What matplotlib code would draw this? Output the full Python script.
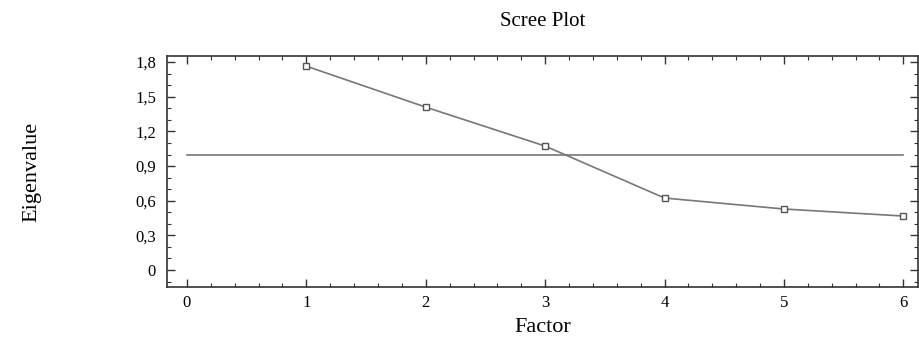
import matplotlib.pyplot as plt
from matplotlib.ticker import MultipleLocator, FuncFormatter

# data
factors = [1, 2, 3, 4, 5, 6]
eigenvalues = [1.765, 1.41, 1.073, 0.623, 0.528, 0.467]
ref_x = [0, 6]
ref_y = [1.0, 1.0]

plt.rcParams['font.family'] = ['Liberation Serif', 'DejaVu Serif']

fig = plt.figure(figsize=(9.2, 3.38), dpi=100)
ax = fig.add_axes([0.1815, 0.151, 0.816, 0.683])

ax.plot(ref_x, ref_y, color='#777777', lw=1.2)
ax.plot(factors, eigenvalues, color='#777777', lw=1.2, marker='s', ms=4,
        markerfacecolor='white', markeredgecolor='#555555', markeredgewidth=1)

ax.set_xlim(-0.167, 6.12)
ax.set_ylim(-0.147, 1.852)

ax.xaxis.set_major_locator(MultipleLocator(1))
ax.xaxis.set_minor_locator(MultipleLocator(0.2))
ax.yaxis.set_major_locator(MultipleLocator(0.3))
ax.yaxis.set_minor_locator(MultipleLocator(0.1))
ax.yaxis.set_major_formatter(FuncFormatter(lambda v, p: ('%g' % round(v, 1)).replace('.', ',')))

ax.tick_params(which='both', direction='in', top=True, right=True, color='#333333')
ax.tick_params(which='major', length=6, width=1, labelsize=12)
ax.tick_params(which='minor', length=3, width=0.8)
ax.tick_params(axis='y', pad=8)
ax.tick_params(axis='x', pad=6)

for s in ax.spines.values():
    s.set_color('#333333')
    s.set_linewidth(1.2)

ax.set_title('Scree Plot', fontsize=15, pad=22)
ax.set_xlabel('Factor', fontsize=16, labelpad=5)
fig.text(0.035, 0.49, 'Eigenvalue', rotation=90, fontsize=16, va='center', ha='center')

fig.savefig('out.png', dpi=100)
